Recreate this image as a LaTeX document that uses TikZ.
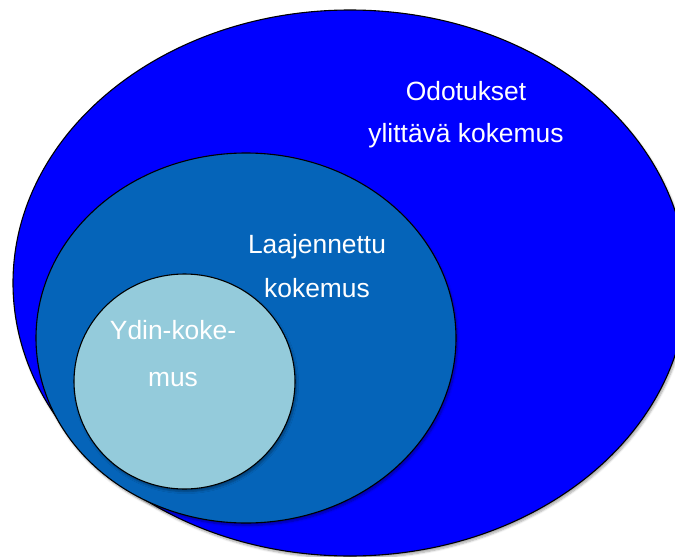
\documentclass[tikz,border=0pt]{standalone}
\usepackage{fontspec}
\setmainfont{Liberation Sans}
\usetikzlibrary{shapes.geometric,shadows.blur}
\definecolor{outerblue}{RGB}{0,0,255}
\definecolor{midblue}{RGB}{5,100,185}
\definecolor{coreblue}{RGB}{148,203,219}
\tikzset{
  venn/.style={ellipse, draw=black, line width=1.1pt, inner sep=0pt,
    blur shadow={shadow xshift=1.5pt, shadow yshift=-2.5pt, shadow blur steps=6, shadow opacity=35}},
  lbl/.style={text=white, anchor=base, inner sep=0pt, font=\fontsize{26.4}{30}\selectfont}
}
\begin{document}
\begin{tikzpicture}[x=1pt,y=-1pt]
\useasboundingbox (0,0) rectangle (675,557);
\clip (0,0) rectangle (675,557);
\node[venn, fill=outerblue, minimum width=674pt, minimum height=546pt] (outer) at (350,283) {};
\node[venn, fill=midblue, minimum width=420pt, minimum height=370pt] (mid) at (246,338) {};
\node[venn, fill=coreblue, minimum width=221pt, minimum height=215pt] (core) at (184.5,381.5) {};
\node[lbl] (outerA) at (466,100) {Odotukset};
\node[lbl] (outerB) at (466,142) {ylittävä kokemus};
\node[lbl] (midA) at (317,253) {Laajennettu};
\node[lbl] (midB) at (317,297) {kokemus};
\node[lbl] (coreA) at (173,339) {Ydin-koke-};
\node[lbl] (coreB) at (173,386) {mus};
\end{tikzpicture}
\end{document}
